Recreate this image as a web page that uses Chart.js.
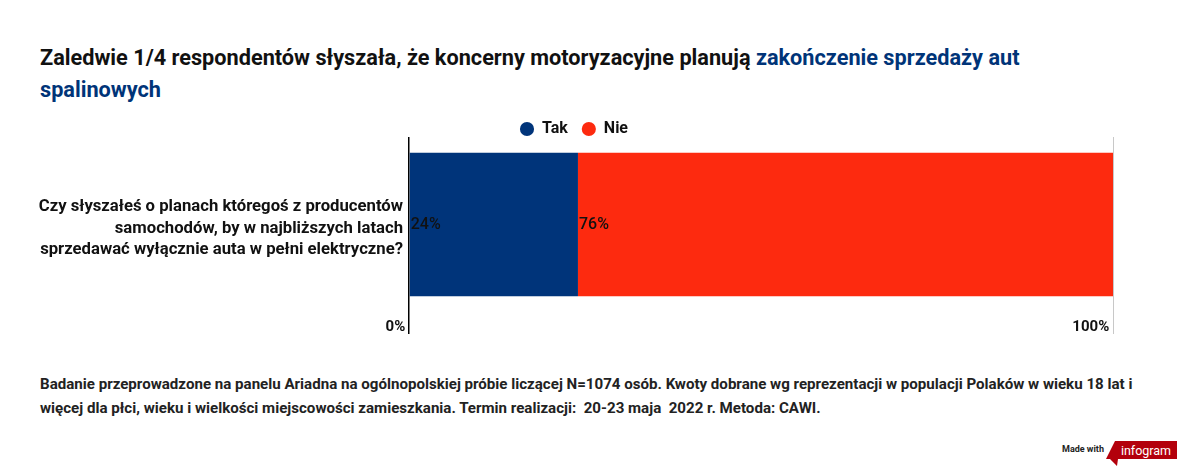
<!DOCTYPE html>
<html>
<head>
<meta charset="utf-8">
<script src="https://cdn.jsdelivr.net/npm/chart.js@4/dist/chart.umd.min.js"></script>
<style>
  body { margin: 0; width: 1200px; height: 475px; background: #fff; font-family: Roboto, sans-serif; position: relative; overflow: hidden; }
  .title { position: absolute; left: 40px; top: 42px; width: 1010px; font-size: 21.7px; font-weight: 700; line-height: 32px; color: #111; }
  .title span { color: #003478; }
  .chart { position: absolute; left: 0; top: 107px; width: 1184px; height: 227px; }
  .note { position: absolute; left: 40px; top: 372px; width: 1120px; font-size: 15.1px; font-weight: 700; line-height: 24px; color: #222; }
  .made { position: absolute; left: 1062px; top: 444px; font-size: 9px; font-weight: 700; color: #222; }
  .logo { position: absolute; left: 1106px; top: 441px; width: 72px; height: 26px; }
</style>
</head>
<body>
<div class="title">Zaledwie 1/4 respondentów słyszała, że koncerny motoryzacyjne planują <span>zakończenie sprzedaży aut spalinowych</span></div>
<div class="chart"><canvas id="c"></canvas></div>
<div class="note">Badanie przeprowadzone na panelu Ariadna na ogólnopolskiej próbie liczącej N=1074 osób. Kwoty dobrane wg reprezentacji w populacji Polaków w wieku 18 lat i<br>więcej dla płci, wieku i wielkości miejscowości zamieszkania. Termin realizacji:&nbsp; 20-23 maja&nbsp; 2022 r. Metoda: CAWI.</div>
<div class="made">Made with</div>
<svg class="logo" viewBox="0 0 72 26">
  <polygon points="9,0 71,0 71,18 5,18 12,18 11,25 4,18 0,18" fill="#b3000c"/>
  <text x="40" y="13.5" font-family="Roboto, sans-serif" font-size="12.5" fill="#fff" text-anchor="middle">infogram</text>
</svg>
<script>
const categories = [['Czy słyszałeś o planach któregoś z producentów', 'samochodów, by w najbliższych latach', 'sprzedawać wyłącznie auta w pełni elektryczne?']];
const seriesNames = ['Tak', 'Nie'];
const tak = [24];
const nie = [76];
const xTicks = [0, 100];

const barLabels = {
  id: 'barLabels',
  afterDatasetsDraw(chart) {
    const ctx = chart.ctx;
    ctx.save();
    ctx.font = '500 16px Roboto';
    ctx.fillStyle = '#111';
    ctx.textAlign = 'left';
    ctx.textBaseline = 'middle';
    chart.data.datasets.forEach((ds, i) => {
      chart.getDatasetMeta(i).data.forEach((bar, j) => {
        ctx.fillText(ds.data[j] + '%', bar.base + 1, bar.y);
      });
    });
    ctx.restore();
  }
};

new Chart(document.getElementById('c'), {
  type: 'bar',
  data: {
    labels: categories,
    datasets: [
      { label: seriesNames[0], data: tak, backgroundColor: '#00347a' },
      { label: seriesNames[1], data: nie, backgroundColor: '#fd2a0f' }
    ]
  },
  options: {
    indexAxis: 'y',
    responsive: true,
    maintainAspectRatio: false,
    animation: false,
    layout: { padding: { left: 35, right: 71, top: 0, bottom: 0 } },
    datasets: { bar: { barPercentage: 1, categoryPercentage: 0.82 } },
    plugins: {
      tooltip: { enabled: false },
      legend: {
        position: 'top',
        maxHeight: 30,
        labels: {
          usePointStyle: true,
          pointStyle: 'circle',
          boxWidth: 14,
          boxHeight: 10,
          padding: 14,
          color: '#111',
          font: { family: 'Roboto', size: 16, weight: '700' }
        }
      }
    },
    scales: {
      x: {
        stacked: true,
        min: 0,
        max: 100,
        afterBuildTicks(s) { s.ticks = xTicks.map(v => ({ value: v })); },
        afterFit(s) { s.height = 22; s.paddingTop = 0; s.paddingBottom = 0; },
        border: { display: false },
        grid: {
          drawTicks: true,
          tickLength: 22,
          color: c => c.index === 0 ? '#000' : '#c8c8c8',
          lineWidth: c => c.index === 0 ? 1.5 : 1
        },
        ticks: {
          align: 'end',
          padding: -16,
          color: '#111',
          font: { family: 'Roboto', size: 15, weight: '700' },
          callback: v => v + '% '
        }
      },
      y: {
        stacked: true,
        afterFit(s) { s.width = 374; s.paddingTop = 0; s.paddingBottom = 0; s.paddingLeft = 0; },
        border: { display: false },
        grid: { display: false, drawTicks: false },
        ticks: {
          padding: 6,
          labelOffset: 4,
          color: '#111',
          font: { family: 'Roboto', size: 16.7, weight: '700', lineHeight: 1.27 }
        }
      }
    }
  },
  plugins: [barLabels]
});
</script>
</body>
</html>
